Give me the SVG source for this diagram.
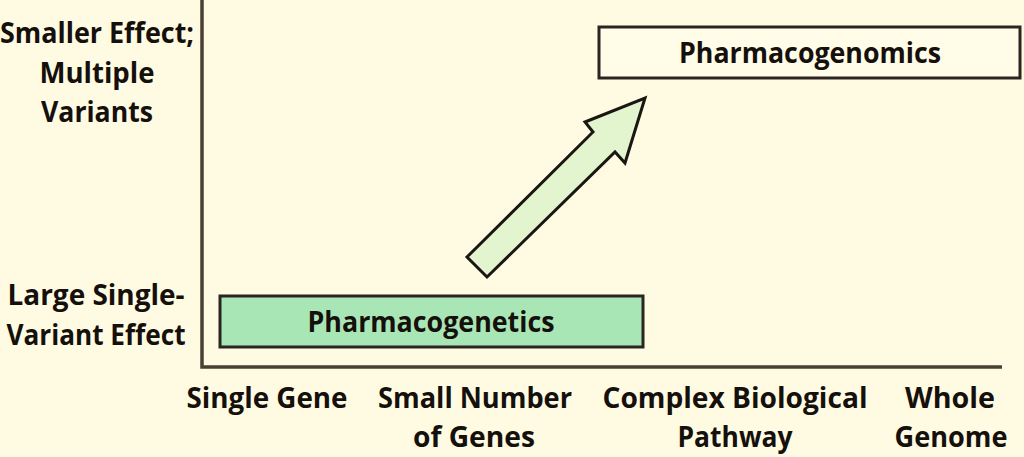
<svg xmlns="http://www.w3.org/2000/svg" width="1024" height="457" viewBox="0 0 1024 457">
<style>
.t{font-family:"Open Sans","Liberation Sans",sans-serif;font-weight:700;font-size:28px;fill:#15100c;text-anchor:middle}
.box{stroke:#2a2520;stroke-width:3}
.axis{stroke:#4a3f33;stroke-width:3.5;fill:none}
</style>
<rect width="1024" height="457" fill="#fffbe2"/>
<g id="axes">
<polyline class="axis" points="202,0 202,367 1002,367"/>
</g>
<g id="y-labels">
<text class="t" x="97" y="43" textLength="194" lengthAdjust="spacingAndGlyphs">Smaller Effect;</text>
<text class="t" x="97" y="83" textLength="115" lengthAdjust="spacingAndGlyphs">Multiple</text>
<text class="t" x="97" y="122" textLength="112" lengthAdjust="spacingAndGlyphs">Variants</text>
<text class="t" x="96" y="305" textLength="177" lengthAdjust="spacingAndGlyphs">Large Single-</text>
<text class="t" x="96" y="345" textLength="179" lengthAdjust="spacingAndGlyphs">Variant Effect</text>
</g>
<g id="x-labels">
<text class="t" x="267" y="408" textLength="161" lengthAdjust="spacingAndGlyphs">Single Gene</text>
<text class="t" x="475" y="408" textLength="194" lengthAdjust="spacingAndGlyphs">Small Number</text>
<text class="t" x="474" y="447" textLength="122" lengthAdjust="spacingAndGlyphs">of Genes</text>
<text class="t" x="735" y="408" textLength="265" lengthAdjust="spacingAndGlyphs">Complex Biological</text>
<text class="t" x="735" y="447" textLength="115" lengthAdjust="spacingAndGlyphs">Pathway</text>
<text class="t" x="950" y="408" textLength="90" lengthAdjust="spacingAndGlyphs">Whole</text>
<text class="t" x="951" y="447" textLength="113" lengthAdjust="spacingAndGlyphs">Genome</text>
</g>
<g id="pharmacogenetics">
<rect class="box" x="220" y="296" width="423" height="51" fill="#a9e6b6"/>
<text class="t" x="431" y="332" textLength="247" lengthAdjust="spacingAndGlyphs">Pharmacogenetics</text>
</g>
<g id="pharmacogenomics">
<rect class="box" x="599" y="27" width="421" height="51" fill="#fffce8"/>
<text class="t" x="810" y="63" textLength="262" lengthAdjust="spacingAndGlyphs">Pharmacogenomics</text>
</g>
<g id="connectors">
<polygon points="467,257 593,132 585,122 645,98 625,163 615,152 487,277" fill="#e2f5cf" stroke="#1c1612" stroke-width="3" stroke-linejoin="miter"/>
</g>
</svg>
